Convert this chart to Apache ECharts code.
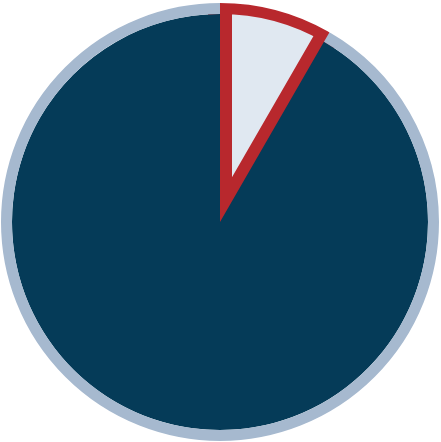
<!DOCTYPE html>
<html>
<head>
<meta charset="utf-8">
<script src="https://cdn.jsdelivr.net/npm/echarts@6/dist/echarts.min.js"></script>
<style>html,body{margin:0;padding:0;background:#fff}#c{width:441px;height:442px}</style>
</head>
<body>
<div id="c"></div>
<script>
const categories = ['Share', 'Rest'];
const values = [8.33, 91.67];

const chart = echarts.init(document.getElementById('c'), null, {renderer: 'canvas'});
const center = [220, 222];
const base = {type: 'pie', center: center, startAngle: 90, clockwise: true, label: {show: false}, labelLine: {show: false}, emphasis: {disabled: true}, silent: true, animation: false};
function data(styles) {
  return categories.map((n, i) => ({name: n, value: values[i], itemStyle: styles[i]}));
}
chart.setOption({
  backgroundColor: '#ffffff',
  series: [
    Object.assign({}, base, {radius: [0, 220], z: 1, data: data([
      {color: '#E0E8F1', borderColor: '#B8282D', borderWidth: 24, borderJoin: 'miter'},
      {color: 'rgba(0,0,0,0)', borderWidth: 0}
    ])}),
    Object.assign({}, base, {radius: [0, 208], z: 2, data: data([
      {color: 'rgba(0,0,0,0)', borderWidth: 0},
      {color: '#053B58', borderWidth: 0}
    ])}),
    Object.assign({}, base, {radius: [208, 220], z: 3, data: data([
      {color: 'rgba(0,0,0,0)', borderWidth: 0},
      {color: '#A6B9CF', borderWidth: 0}
    ])}),
    Object.assign({}, base, {radius: [220.5, 300], z: 4, data: data([
      {color: '#ffffff', borderColor: '#ffffff', borderWidth: 3},
      {color: '#ffffff', borderColor: '#ffffff', borderWidth: 3}
    ])})
  ]
});
</script>
</body>
</html>
